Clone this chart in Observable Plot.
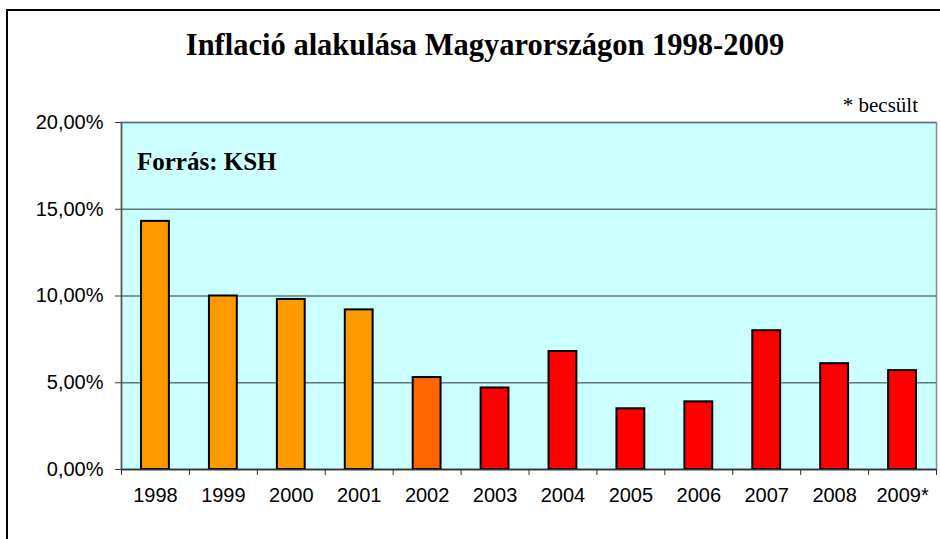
<!DOCTYPE html>
<html>
<head>
<meta charset="utf-8">
<script src="https://cdn.jsdelivr.net/npm/d3@7"></script>
<script src="https://cdn.jsdelivr.net/npm/@observablehq/plot@0.6"></script>
<style>
  html, body { margin: 0; padding: 0; background: #fff; }
  #wrap { position: relative; width: 940px; height: 539px; overflow: hidden; }
  #frame { position: absolute; left: 6px; top: 9px; width: 1000px; height: 600px; border: 2px solid #000; box-sizing: border-box; }
  #title { position: absolute; left: 15px; top: 28px; width: 940px; text-align: center;
           font-family: "Liberation Serif", "Times New Roman", serif; font-weight: bold; font-size: 30.5px; color: #000; }
  #chart { position: absolute; left: 0; top: 0; }
  #note { position: absolute; right: 22px; top: 93px; font-family: "Liberation Serif", serif; font-size: 21px; color: #000; }
  #source { position: absolute; left: 137px; top: 148px; font-family: "Liberation Serif", serif; font-weight: bold; font-size: 25px; color: #000; }
</style>
</head>
<body>
<div id="wrap">
  <div id="frame"></div>
  <div id="chart"></div>
  <div id="title">Inflació alakulása Magyarországon 1998-2009</div>
  <div id="note">* becsült</div>
  <div id="source">Forrás: KSH</div>
</div>
<script>
const years = ["1998","1999","2000","2001","2002","2003","2004","2005","2006","2007","2008","2009*"];
const inflation = [14.3, 10.0, 9.8, 9.2, 5.3, 4.7, 6.8, 3.5, 3.9, 8.0, 6.1, 5.7];
const barColors = ["#FF9900","#FF9900","#FF9900","#FF9900","#FF6600","#FF0000","#FF0000","#FF0000","#FF0000","#FF0000","#FF0000","#FF0000"];
const yTicks = [0, 5, 10, 15, 20];

const data = years.map((y, i) => ({i, year: y, value: inflation[i], color: barColors[i]}));
const halfBar = 0.205;

const fmt = v => v.toFixed(2).replace(".", ",") + "%";

const chart = Plot.plot({
  width: 940,
  height: 539,
  marginLeft: 121,
  marginRight: 4,
  marginTop: 122,
  marginBottom: 70,
  style: { background: "transparent", fontFamily: "'Liberation Sans', Arial, sans-serif", fontSize: "20px", color: "#000" },
  x: { type: "linear", domain: [-0.5, years.length - 0.5], label: null },
  y: { domain: [0, 20], label: null },
  marks: [
    Plot.frame({ fill: "#CCFFFF", stroke: "#888888", strokeWidth: 1.5 }),
    Plot.gridY(yTicks, { stroke: "#607878", strokeOpacity: 1, strokeWidth: 1.6 }),
    Plot.rect(data, {
      x1: d => d.i - halfBar,
      x2: d => d.i + halfBar,
      y1: 0,
      y2: "value",
      fill: "color",
      stroke: "#000",
      strokeWidth: 2
    }),
    Plot.ruleY([0], { stroke: "#333", strokeWidth: 1.5 }),
    Plot.ruleX([-0.5], { stroke: "#555", strokeWidth: 1.5 }),
    Plot.axisY({ ticks: yTicks, tickFormat: fmt, tickSize: 6, tickPadding: 12, stroke: "#333", fontSize: 20, label: null }),
    Plot.axisX({ ticks: d3.range(years.length + 1).map(k => k - 0.5), tickFormat: () => "", tickSize: 6, stroke: "#333", label: null }),
    Plot.axisX({ ticks: d3.range(years.length), tickFormat: k => years[k], tickSize: 0, tickPadding: 18, fontSize: 20, label: null })
  ]
});
document.getElementById("chart").appendChild(chart);
</script>
</body>
</html>
